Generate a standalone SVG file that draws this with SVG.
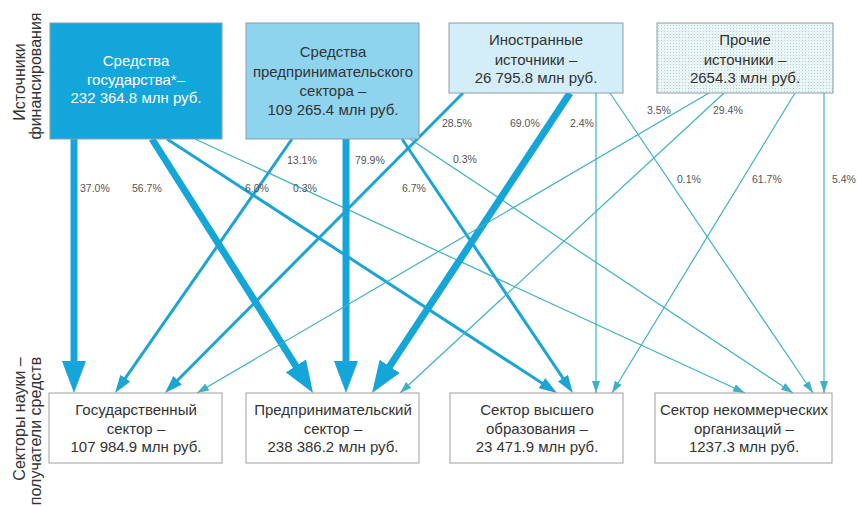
<svg xmlns="http://www.w3.org/2000/svg" width="857" height="506" viewBox="0 0 857 506">
<style>
.t{font-family:"Liberation Sans",Arial,sans-serif;font-size:15px;fill:#333;text-anchor:middle}
.s{font-size:16px}
.tw{fill:#fff}
.p{font-family:"Liberation Sans",Arial,sans-serif;font-size:10.5px;fill:#555}
.box{stroke:#8c9ea6;stroke-width:1}
.bb{fill:#fff;stroke:#a0a0a0;stroke-width:1}
.lk{fill:none;stroke:#15a6d9;stroke-width:7}
.lm{fill:none;stroke:#1ca5d3;stroke-width:3}
.ls{fill:none;stroke:#3fb1c6;stroke-width:1.2}
</style>
<defs>
<pattern id="dots" width="3" height="3" patternUnits="userSpaceOnUse">
<rect width="3" height="3" fill="#eaf5f5"/>
<rect x="1" y="1" width="1" height="1" fill="#b9d3d3"/>
</pattern>
<marker id="ak" markerUnits="userSpaceOnUse" markerWidth="32" markerHeight="24" refX="17" refY="12" orient="auto" viewBox="0 0 32 24">
<path d="M0,0 L32,12 L0,24 Z" fill="#15a6d9"/>
</marker>
<marker id="am" markerUnits="userSpaceOnUse" markerWidth="18" markerHeight="12" refX="10" refY="6" orient="auto" viewBox="0 0 18 12">
<path d="M0,0 L18,6 L0,12 Z" fill="#1ca5d3"/>
</marker>
<marker id="as" markerUnits="userSpaceOnUse" markerWidth="12" markerHeight="8" refX="12" refY="4" orient="auto" viewBox="0 0 12 8">
<path d="M0,0 L12,4 L0,8 Z" fill="#3fb1c6"/>
</marker>
</defs>
<rect width="857" height="506" fill="#fff"/>

<g id="side-labels">
<text class="t s" transform="translate(25,82) rotate(-90)">Источники</text>
<text class="t s" transform="translate(41,76) rotate(-90)">финансирования</text>
<text class="t s" transform="translate(25,419) rotate(-90)">Секторы науки –</text>
<text class="t s" transform="translate(41,431) rotate(-90)">получатели средств</text>
</g>

<g id="connectors">
<!-- State -->
<line class="lk" x1="74" y1="139" x2="74" y2="378" marker-end="url(#ak)"/>
<line class="lk" x1="152" y1="139" x2="305" y2="380.3" marker-end="url(#ak)"/>
<line class="lm" x1="167" y1="139" x2="550.3" y2="388.6" marker-end="url(#am)"/>
<line class="ls" x1="195" y1="139" x2="745" y2="393" marker-end="url(#as)"/>
<!-- Business -->
<line class="lm" x1="292" y1="139" x2="119.6" y2="386.4" marker-end="url(#am)"/>
<line class="lk" x1="346" y1="139" x2="346" y2="378" marker-end="url(#ak)"/>
<line class="lm" x1="402" y1="139" x2="568.5" y2="386.4" marker-end="url(#am)"/>
<line class="ls" x1="410" y1="139" x2="793" y2="393" marker-end="url(#as)"/>
<!-- Foreign -->
<line class="lm" x1="463" y1="93" x2="170.6" y2="387.3" marker-end="url(#am)"/>
<line class="lk" x1="570" y1="93" x2="380.3" y2="380.5" marker-end="url(#ak)"/>
<line class="ls" x1="596" y1="93" x2="596" y2="393" marker-end="url(#as)"/>
<line class="ls" x1="610" y1="93" x2="813" y2="393" marker-end="url(#as)"/>
<!-- Other -->
<line class="ls" x1="709" y1="93" x2="197" y2="393" marker-end="url(#as)"/>
<line class="ls" x1="724" y1="93" x2="400" y2="393" marker-end="url(#as)"/>
<line class="ls" x1="795" y1="93" x2="612" y2="393" marker-end="url(#as)"/>
<line class="ls" x1="824" y1="93" x2="824" y2="393" marker-end="url(#as)"/>
</g>

<g id="percent-labels">
<text class="p" x="80" y="192">37.0%</text>
<text class="p" x="132" y="192">56.7%</text>
<text class="p" x="245" y="192">6.0%</text>
<text class="p" x="293" y="192">0.3%</text>
<text class="p" x="287" y="164">13.1%</text>
<text class="p" x="355" y="164">79.9%</text>
<text class="p" x="402" y="192">6.7%</text>
<text class="p" x="453" y="163">0.3%</text>
<text class="p" x="442" y="127">28.5%</text>
<text class="p" x="510" y="127">69.0%</text>
<text class="p" x="570" y="127">2.4%</text>
<text class="p" x="647" y="114">3.5%</text>
<text class="p" x="713" y="114">29.4%</text>
<text class="p" x="677" y="183">0.1%</text>
<text class="p" x="752" y="183">61.7%</text>
<text class="p" x="832" y="183">5.4%</text>
</g>

<g id="src-state">
<rect class="box" x="50" y="23" width="172" height="116" fill="#12a6da"/>
<text class="t tw" x="136" y="66">Средства</text>
<text class="t tw" x="136" y="85">государства*–</text>
<text class="t tw" x="136" y="103">232 364.8 млн руб.</text>
</g>
<g id="src-business">
<rect class="box" x="246" y="23" width="173" height="116" fill="#8fd4ef"/>
<text class="t" x="333" y="57">Средства</text>
<text class="t" x="333" y="77">предпринимательского</text>
<text class="t" x="333" y="96">сектора –</text>
<text class="t" x="333" y="115">109 265.4 млн руб.</text>
</g>
<g id="src-foreign">
<rect class="box" x="449" y="23" width="174" height="70" fill="#d3eef9"/>
<text class="t" x="536" y="45">Иностранные</text>
<text class="t" x="536" y="65">источники –</text>
<text class="t" x="536" y="83">26 795.8 млн руб.</text>
</g>
<g id="src-other">
<rect class="box" x="657" y="23" width="176" height="70" fill="url(#dots)"/>
<text class="t" x="745" y="45">Прочие</text>
<text class="t" x="745" y="65">источники –</text>
<text class="t" x="745" y="83">2654.3 млн руб.</text>
</g>

<g id="dst-gov">
<rect class="bb" x="49" y="393" width="173" height="70"/>
<text class="t" x="136" y="415">Государственный</text>
<text class="t" x="136" y="434">сектор –</text>
<text class="t" x="136" y="452">107 984.9 млн руб.</text>
</g>
<g id="dst-business">
<rect class="bb" x="246" y="393" width="173" height="70"/>
<text class="t" x="333" y="415">Предпринимательский</text>
<text class="t" x="333" y="434">сектор –</text>
<text class="t" x="333" y="452">238 386.2 млн руб.</text>
</g>
<g id="dst-higher">
<rect class="bb" x="450" y="393" width="173" height="70"/>
<text class="t" x="537" y="415">Сектор высшего</text>
<text class="t" x="537" y="434">образования –</text>
<text class="t" x="537" y="452">23 471.9 млн руб.</text>
</g>
<g id="dst-nonprofit">
<rect class="bb" x="655" y="393" width="177" height="70"/>
<text class="t" x="744" y="415">Сектор некоммерческих</text>
<text class="t" x="744" y="434">организаций –</text>
<text class="t" x="744" y="452">1237.3 млн руб.</text>
</g>
</svg>
